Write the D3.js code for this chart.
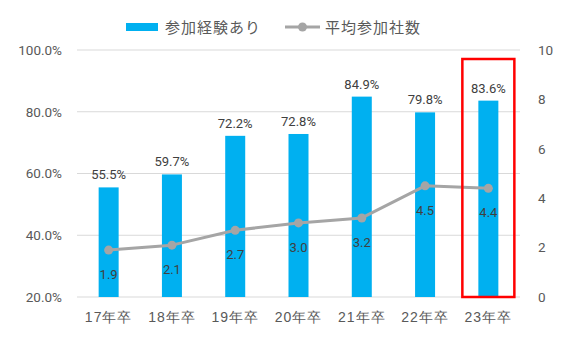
<!DOCTYPE html>
<html><head><meta charset="utf-8">
<script src="https://cdn.jsdelivr.net/npm/d3@7"></script>
<style>body{margin:0;background:#fff;}svg{display:block;font-family:"Noto Sans CJK JP","Noto Sans",sans-serif;}</style>
</head><body><svg id="c" width="564" height="344"></svg>
<script>
const categories = ["17年卒","18年卒","19年卒","20年卒","21年卒","22年卒","23年卒"];
const participationRate = [55.5, 59.7, 72.2, 72.8, 84.9, 79.8, 83.6];
const avgCompanies = [1.9, 2.1, 2.7, 3.0, 3.2, 4.5, 4.4];
const leftTicks = [20, 40, 60, 80, 100];
const rightTicks = [0, 2, 4, 6, 8, 10];
const seriesNames = ["参加経験あり", "平均参加社数"];

const svg = d3.select("#c");
const L = 77, R = 520, T = 50, B = 297;
const x = d3.scaleBand().domain(categories).range([L, R]);
const yL = d3.scaleLinear().domain([20, 100]).range([B, T]);
const yR = d3.scaleLinear().domain([0, 10]).range([B, T]);
const barW = 20;
const txt = "#595959";

// gridlines
svg.append("g").selectAll("line").data(leftTicks).join("line")
  .attr("x1", L).attr("x2", R).attr("y1", d => yL(d)).attr("y2", d => yL(d))
  .attr("stroke", "#D9D9D9").attr("stroke-width", 1);

// left axis
const la = svg.append("g").attr("transform", `translate(${L},0)`)
  .call(d3.axisLeft(yL).tickValues(leftTicks).tickFormat(d => d.toFixed(1) + "%").tickSize(0).tickPadding(15));
la.select(".domain").remove();
la.selectAll("text").attr("font-size", 13.5).attr("fill", txt).attr("font-family", "Roboto, 'Noto Sans', sans-serif");

// right axis
const ra = svg.append("g").attr("transform", `translate(${R},0)`)
  .call(d3.axisRight(yR).tickValues(rightTicks).tickSize(0).tickPadding(18));
ra.select(".domain").remove();
ra.selectAll("text").attr("font-size", 13.5).attr("fill", txt).attr("font-family", "Roboto, 'Noto Sans', sans-serif");

// x axis
const xa = svg.append("g").attr("transform", `translate(0,${B})`)
  .call(d3.axisBottom(x).tickSize(0).tickPadding(15));
xa.select(".domain").remove();
xa.selectAll("text").attr("font-size", 14).attr("fill", txt).attr("letter-spacing", "1px");

// bars
svg.append("g").selectAll("rect").data(categories).join("rect")
  .attr("x", d => x(d) + x.bandwidth()/2 - barW/2)
  .attr("width", barW)
  .attr("y", (d, i) => yL(participationRate[i]))
  .attr("height", (d, i) => B - yL(participationRate[i]))
  .attr("fill", "#00B0F0");

// bar labels
svg.append("g").selectAll("text").data(categories).join("text")
  .attr("x", d => x(d) + x.bandwidth()/2)
  .attr("y", (d, i) => yL(participationRate[i]) - 8)
  .attr("text-anchor", "middle").attr("font-size", 13).attr("fill", "#404040")
  .attr("font-family", "Roboto, 'Noto Sans', sans-serif")
  .text((d, i) => participationRate[i].toFixed(1) + "%");

// line
const line = d3.line().x(d => x(d[0]) + x.bandwidth()/2).y(d => yR(d[1]));
const pts = categories.map((c, i) => [c, avgCompanies[i]]);
svg.append("path").datum(pts).attr("d", line)
  .attr("fill", "none").attr("stroke", "#A5A5A5").attr("stroke-width", 3).attr("stroke-linejoin", "round");
svg.append("g").selectAll("circle").data(pts).join("circle")
  .attr("cx", d => x(d[0]) + x.bandwidth()/2).attr("cy", d => yR(d[1])).attr("r", 4.5)
  .attr("fill", "#A5A5A5");
svg.append("g").selectAll("text").data(pts).join("text")
  .attr("x", d => x(d[0]) + x.bandwidth()/2)
  .attr("y", d => yR(d[1]) + 29)
  .attr("text-anchor", "middle").attr("font-size", 13).attr("fill", "#404040")
  .attr("font-family", "Roboto, 'Noto Sans', sans-serif")
  .text(d => d[1].toFixed(1));

// highlight box on last category
const last = categories[categories.length - 1];
svg.append("rect")
  .attr("x", x(last) + x.bandwidth()/2 - 26).attr("width", 52)
  .attr("y", 59).attr("height", B - 59)
  .attr("fill", "none").attr("stroke", "#FF0000").attr("stroke-width", 2.5);

// legend
const lg = svg.append("g");
lg.append("rect").attr("x", 126).attr("y", 23).attr("width", 32).attr("height", 8).attr("fill", "#00B0F0");
lg.append("text").attr("x", 165).attr("y", 33).attr("font-size", 15).attr("fill", txt).attr("letter-spacing", "1px").text(seriesNames[0]);
lg.append("line").attr("x1", 285).attr("x2", 320).attr("y1", 27).attr("y2", 27).attr("stroke", "#A5A5A5").attr("stroke-width", 3);
lg.append("circle").attr("cx", 302.5).attr("cy", 27).attr("r", 4.5).attr("fill", "#A5A5A5");
lg.append("text").attr("x", 325).attr("y", 33).attr("font-size", 15).attr("fill", txt).attr("letter-spacing", "1px").text(seriesNames[1]);
</script></body></html>
